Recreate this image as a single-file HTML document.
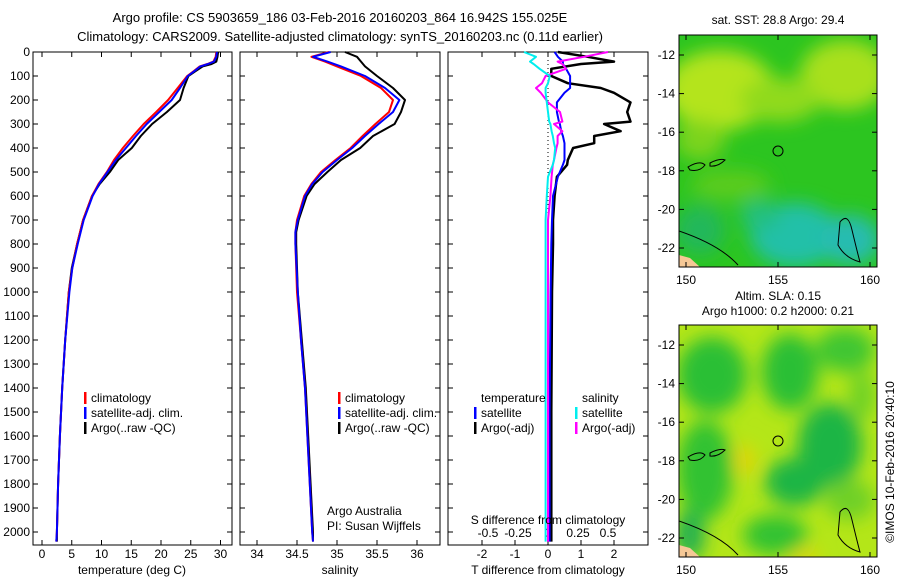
<!DOCTYPE html>
<html><head><meta charset="utf-8">
<style>
body{margin:0;background:#fff;}
svg{display:block;font-family:"Liberation Sans",sans-serif;font-size:12px;}
</style></head>
<body>
<svg id="fig" width="900" height="580" viewBox="0 0 900 580" xmlns="http://www.w3.org/2000/svg">
<defs>
<filter id="blur1" x="-50%" y="-50%" width="200%" height="200%"><feGaussianBlur stdDeviation="9"/></filter>
<filter id="blur2" x="-50%" y="-50%" width="200%" height="200%"><feGaussianBlur stdDeviation="9"/></filter>
<clipPath id="c1"><rect x="679" y="35" width="198" height="232"/></clipPath>
<clipPath id="c2"><rect x="679" y="325" width="198" height="232"/></clipPath>
</defs>
<text x="340" y="22" text-anchor="middle" font-size="13">Argo profile: CS 5903659_186 03-Feb-2016 20160203_864 16.942S 155.025E</text>
<text x="340" y="41" text-anchor="middle" font-size="13">Climatology: CARS2009. Satellite-adjusted climatology: synTS_20160203.nc (0.11d earlier)</text>
<g id="panels"></g>

<!-- map 1 -->
<g>
<text x="778" y="24" text-anchor="middle">sat. SST: 28.8 Argo: 29.4</text>
<g clip-path="url(#c1)">
<rect x="679" y="35" width="198" height="232" fill="#2cc520"/>
<g filter="url(#blur1)">
<ellipse cx="720" cy="90" rx="55" ry="40" fill="#b4e41a"/>
<ellipse cx="845" cy="75" rx="45" ry="35" fill="#a8e01a"/>
<ellipse cx="780" cy="100" rx="40" ry="22" fill="#90da1a"/>
<ellipse cx="700" cy="140" rx="25" ry="20" fill="#7cd41a"/>
<ellipse cx="730" cy="185" rx="40" ry="15" fill="#5ccc1c"/>
<ellipse cx="795" cy="235" rx="45" ry="32" fill="#20c0a8"/>
<ellipse cx="850" cy="240" rx="30" ry="25" fill="#25bcb0"/>
<ellipse cx="760" cy="215" rx="20" ry="15" fill="#22bf80"/>
<ellipse cx="700" cy="230" rx="25" ry="25" fill="#22b85a"/>
</g>
<path d="M679,231 Q720,245 738,265" fill="none" stroke="#000" stroke-width="1"/>
<path d="M840,222 Q848,212 852,230 Q858,255 860,262 Q845,258 838,245 Z" fill="none" stroke="#000"/>
<path d="M688,167 Q700,160 705,165 Q700,172 690,170 Z M710,163 Q720,158 725,160 Q718,167 710,166 Z" fill="none" stroke="#000"/>
<path d="M679,255 L690,258 L700,267 L679,267 Z" fill="#f6c896"/>
<circle cx="778" cy="151" r="5" fill="none" stroke="#000"/>
</g>
<rect x="679" y="35" width="198" height="232" fill="none" stroke="#000"/>
<g id="map1axes"></g>
</g>

<!-- map 2 -->
<g>
<text x="778" y="300" text-anchor="middle">Altim. SLA: 0.15</text>
<text x="778" y="315" text-anchor="middle">Argo h1000: 0.2 h2000: 0.21</text>
<g clip-path="url(#c2)">
<rect x="679" y="325" width="198" height="232" fill="#b4e618"/>
<g filter="url(#blur2)">
<ellipse cx="712" cy="375" rx="35" ry="38" fill="#2cbf34"/>
<ellipse cx="790" cy="372" rx="28" ry="38" fill="#2cbf34"/>
<ellipse cx="845" cy="350" rx="30" ry="22" fill="#40c630"/>
<ellipse cx="862" cy="395" rx="12" ry="25" fill="#6ad028"/>
<ellipse cx="830" cy="445" rx="32" ry="42" fill="#1fb544"/>
<ellipse cx="795" cy="482" rx="30" ry="24" fill="#1fb544"/>
<ellipse cx="705" cy="470" rx="28" ry="50" fill="#32c232"/>
<ellipse cx="775" cy="535" rx="32" ry="20" fill="#30c230"/>
<ellipse cx="690" cy="535" rx="15" ry="25" fill="#22b050"/>
<ellipse cx="850" cy="500" rx="25" ry="20" fill="#70d028"/>
<ellipse cx="745" cy="460" rx="8" ry="15" fill="#f0d000"/>
<ellipse cx="805" cy="557" rx="15" ry="6" fill="#f0d000"/>
</g>
<path d="M679,521 Q720,535 738,555" fill="none" stroke="#000" stroke-width="1"/>
<path d="M840,512 Q848,502 852,520 Q858,545 860,552 Q845,548 838,535 Z" fill="none" stroke="#000"/>
<path d="M688,457 Q700,450 705,455 Q700,462 690,460 Z M710,453 Q720,448 725,450 Q718,457 710,456 Z" fill="none" stroke="#000"/>
<path d="M679,545 L690,548 L700,557 L679,557 Z" fill="#f6c896"/>
<circle cx="778" cy="441" r="5" fill="none" stroke="#000"/>
</g>
<rect x="679" y="325" width="198" height="232" fill="none" stroke="#000"/>
<g id="map2axes"></g>
</g>
<text transform="translate(894,462) rotate(-90)" text-anchor="middle">©IMOS 10-Feb-2016 20:40:10</text>
</svg>
<script>
// ---------- data ----------
const depthTicks = [0,100,200,300,400,500,600,700,800,900,1000,1100,1200,1300,1400,1500,1600,1700,1800,1900,2000];
const tempTicks = [0,5,10,15,20,25,30];
const salTicks = [34,34.5,35,35.5,36];
const tdiffTicks = [-2,-1,0,1,2];
const sdiffTicks = [-0.5,-0.25,0,0.25,0.5];

const tDepth = [0,20,40,50,60,80,100,150,200,250,300,350,400,450,500,550,600,700,800,900,1000,1200,1400,1600,1800,2000,2040];
const tClim  = [29.3,29.2,28.8,27.8,26.5,25.5,24.4,22.8,21.2,19.2,17.1,15.3,13.6,12.1,10.9,9.5,8.4,6.9,5.9,5.1,4.5,3.9,3.4,3.0,2.7,2.5,2.4];
const tSat   = [29.4,29.3,28.9,27.9,26.6,25.6,24.5,23.2,21.8,19.7,17.6,15.8,14.1,12.4,11.0,9.6,8.5,7.0,6.0,5.1,4.6,3.9,3.4,3.0,2.7,2.5,2.4];
const tArgo  = [29.6,29.5,29.3,28.5,27.0,25.8,24.6,23.8,23.2,21.0,18.5,16.6,15.1,12.8,11.4,9.7,8.4,6.9,5.9,5.0,4.5,3.9,3.4,3.0,2.7,2.5,2.5];

const sDepth = [0,20,40,60,100,150,200,250,300,350,400,450,500,550,600,700,750,800,1000,1200,1400,1600,1800,2000,2040];
const sClim  = [34.9,34.68,34.85,35.0,35.3,35.55,35.7,35.65,35.48,35.32,35.17,34.98,34.8,34.68,34.59,34.5,34.48,34.48,34.5,34.55,34.6,34.63,34.66,34.69,34.7];
const sSat   = [34.92,34.7,34.88,35.05,35.35,35.6,35.78,35.7,35.52,35.35,35.19,35.0,34.82,34.69,34.6,34.51,34.48,34.48,34.51,34.55,34.6,34.63,34.66,34.69,34.7];
const sArgo  = [35.1,35.25,35.3,35.35,35.5,35.7,35.85,35.8,35.72,35.45,35.29,35.05,34.88,34.72,34.62,34.52,34.49,34.49,34.51,34.56,34.61,34.64,34.67,34.7,34.7];

const dDepth   = [0,20,40,50,70,100,130,150,170,210,250,290,300,330,350,380,400,450,470,520,600,700,800,1000,1500,2000,2040];
const dTsat    = [0.2,0.3,0.45,0.45,0.55,0.67,0.67,0.67,0.5,0.27,0.27,0.33,0.36,0.4,0.45,0.5,0.5,0.5,0.45,0.3,0.15,0.12,0.1,0.08,0.05,0.05,0.05];
const dTargo   = [0.3,1.2,2.0,1.0,0.1,0.1,0.6,1.6,2.0,2.5,2.4,2.5,1.7,2.2,1.4,1.4,0.76,0.6,0.58,0.27,0.2,0.15,0.15,0.12,0.1,0.1,0.1];
const dSsat    = [-0.2,-0.1,-0.15,-0.12,-0.07,0.015,0.0,-0.02,-0.02,-0.01,0.0,0.01,0.02,0.03,0.04,0.05,0.06,0.05,0.04,0.0,-0.01,-0.02,-0.02,-0.02,-0.02,-0.02,-0.02];
const dSargo   = [0.5,0.3,0.08,0.12,0.15,-0.02,-0.05,-0.1,-0.06,0.0,0.1,0.12,0.05,0.12,0.08,0.08,0.07,0.05,0.04,0.03,0.02,0.0,0.0,0.0,0.0,0.0,0.0];

const lonTicks = [150,155,160];
const latTicks = [-12,-14,-16,-18,-20,-22];

// ---------- drawing ----------
const NS='http://www.w3.org/2000/svg';
const svg=document.getElementById('fig');
const panels=document.getElementById('panels');
const top0=52, bot=545;
const yD=d=>top0+0.24*d;
function mk(tag,attrs,parent){const e=document.createElementNS(NS,tag);for(const k in attrs)e.setAttribute(k,attrs[k]);(parent||panels).appendChild(e);return e;}
function txt(x,y,s,anchor,parent){const t=mk('text',{x:x,y:y,'text-anchor':anchor||'middle'},parent);t.textContent=s;return t;}

const P=[
 {l:33,r:232,name:'temperature-panel'},
 {l:240,r:440,name:'salinity-panel'},
 {l:448,r:648,name:'difference-panel'}];
const xT=v=>42+5.95*v;
const xS=v=>257+80*(v-34);
const xDT=v=>548+33*v;
const xDS=v=>548+120*v;

P.forEach((p,i)=>{
  const g=mk('g',{});
  
  
  p.g=g;
  const r=mk('rect',{x:p.l,y:top0,width:p.r-p.l,height:bot-top0,fill:'none',stroke:'#000'},g);
  
  
  depthTicks.forEach(d=>{
    mk('line',{x1:p.l,x2:p.l+5,y1:yD(d),y2:yD(d),stroke:'#000'},g);
    mk('line',{x1:p.r,x2:p.r-5,y1:yD(d),y2:yD(d),stroke:'#000'},g);
    if(i===0){const t=txt(30,yD(d)+4,String(d),'end',g);}
  });
});
function xticks(p,ticks,f,y,lab){
  ticks.forEach(v=>{
    mk('line',{x1:f(v),x2:f(v),y1:bot,y2:bot-5,stroke:'#000'},p.g);
    mk('line',{x1:f(v),x2:f(v),y1:top0,y2:top0+5,stroke:'#000'},p.g);
    const t=txt(f(v),y,lab?lab(v):String(v),'middle',p.g);
    
    
  });
}
xticks(P[0],tempTicks,xT,558);
xticks(P[1],salTicks,xS,558);
xticks(P[2],tdiffTicks,xDT,558);
sdiffTicks.forEach(v=>{const t=txt(xDS(v),537,String(v),'middle',P[2].g);});
[['temperature (deg C)',132,'x-axis-title-temperature'],['salinity',340,'x-axis-title-salinity'],['T difference from climatology',548,'x-axis-title-t-diff']].forEach(a=>{const t=txt(a[1],574,a[0]);});
{const t=txt(548,524,'S difference from climatology');}

function line(depths,vals,f,color,w,name,g){
  const pts=depths.map((d,k)=>f(vals[k]).toFixed(1)+','+yD(d).toFixed(1)).join(' ');
  const e=mk('polyline',{points:pts,fill:'none',stroke:color,'stroke-width':w,'stroke-linejoin':'round'},g);
  
  
}
line(tDepth,tArgo,xT,'#000',2,'temp-argo-line',P[0].g);
line(tDepth,tClim,xT,'#f00',2,'temp-climatology-line',P[0].g);
line(tDepth,tSat,xT,'#00f',2,'temp-satellite-line',P[0].g);
line(sDepth,sArgo,xS,'#000',2,'sal-argo-line',P[1].g);
line(sDepth,sClim,xS,'#f00',2,'sal-climatology-line',P[1].g);
line(sDepth,sSat,xS,'#00f',2,'sal-satellite-line',P[1].g);
mk('line',{x1:xDT(0),x2:xDT(0),y1:top0,y2:bot,stroke:'#000','stroke-dasharray':'1,3'},P[2].g);
line(dDepth,dTargo,xDT,'#000',2.5,'t-diff-argo-line',P[2].g);
line(dDepth,dTsat,xDT,'#00f',2,'t-diff-satellite-line',P[2].g);
line(dDepth,dSargo,xDS,'#f0f',2,'s-diff-argo-line',P[2].g);
line(dDepth,dSsat,xDS,'#0ee',2,'s-diff-satellite-line',P[2].g);

function legend(g,x,y,items){
  items.forEach((it,k)=>{
    const yy=y+k*15;
    const b=mk('rect',{x:x,y:yy-10,width:2.5,height:12,fill:it[1]},g);
    
    
    const t=txt(x+7,yy,it[0],'start',g);
    
    
  });
}
const L1=[['climatology','#f00'],['satellite-adj. clim.','#00f'],['Argo(..raw -QC)','#000']];
legend(P[0].g,84,402,L1);
legend(P[1].g,338,402,L1);
legend(P[2].g,474,417,[['satellite','#00f'],['Argo(-adj)','#000']]);
legend(P[2].g,575,417,[['satellite','#0ee'],['Argo(-adj)','#f0f']]);
{let t=txt(481,402,'temperature','start',P[2].g);
 t=txt(582,402,'salinity','start',P[2].g);
 t=txt(327,515,'Argo Australia','start',P[1].g);
 t=txt(327,530,'PI: Susan Wijffels','start',P[1].g);}

function mapAxes(gid,topY,y12,y22){
  const g=document.getElementById(gid);
  const xL=v=>686+(v-150)*18.4;
  const yL=v=>y12+(v+12)/(-10)*(y22-y12);
  lonTicks.forEach(v=>{
    mk('line',{x1:xL(v),x2:xL(v),y1:topY,y2:topY+5,stroke:'#000'},g);
    mk('line',{x1:xL(v),x2:xL(v),y1:topY+232,y2:topY+227,stroke:'#000'},g);
    const t=txt(xL(v),topY+249,String(v),'middle',g);
    
    
  });
  latTicks.forEach(v=>{
    mk('line',{x1:877,x2:872,y1:yL(v),y2:yL(v),stroke:'#000'},g);
    mk('line',{x1:679,x2:684,y1:yL(v),y2:yL(v),stroke:'#000'},g);
    const t=txt(675,yL(v)+4,String(v),'end',g);
    
    
  });
}
mapAxes('map1axes',35,55,248);
mapAxes('map2axes',325,345,538);
</script>
</body></html>
